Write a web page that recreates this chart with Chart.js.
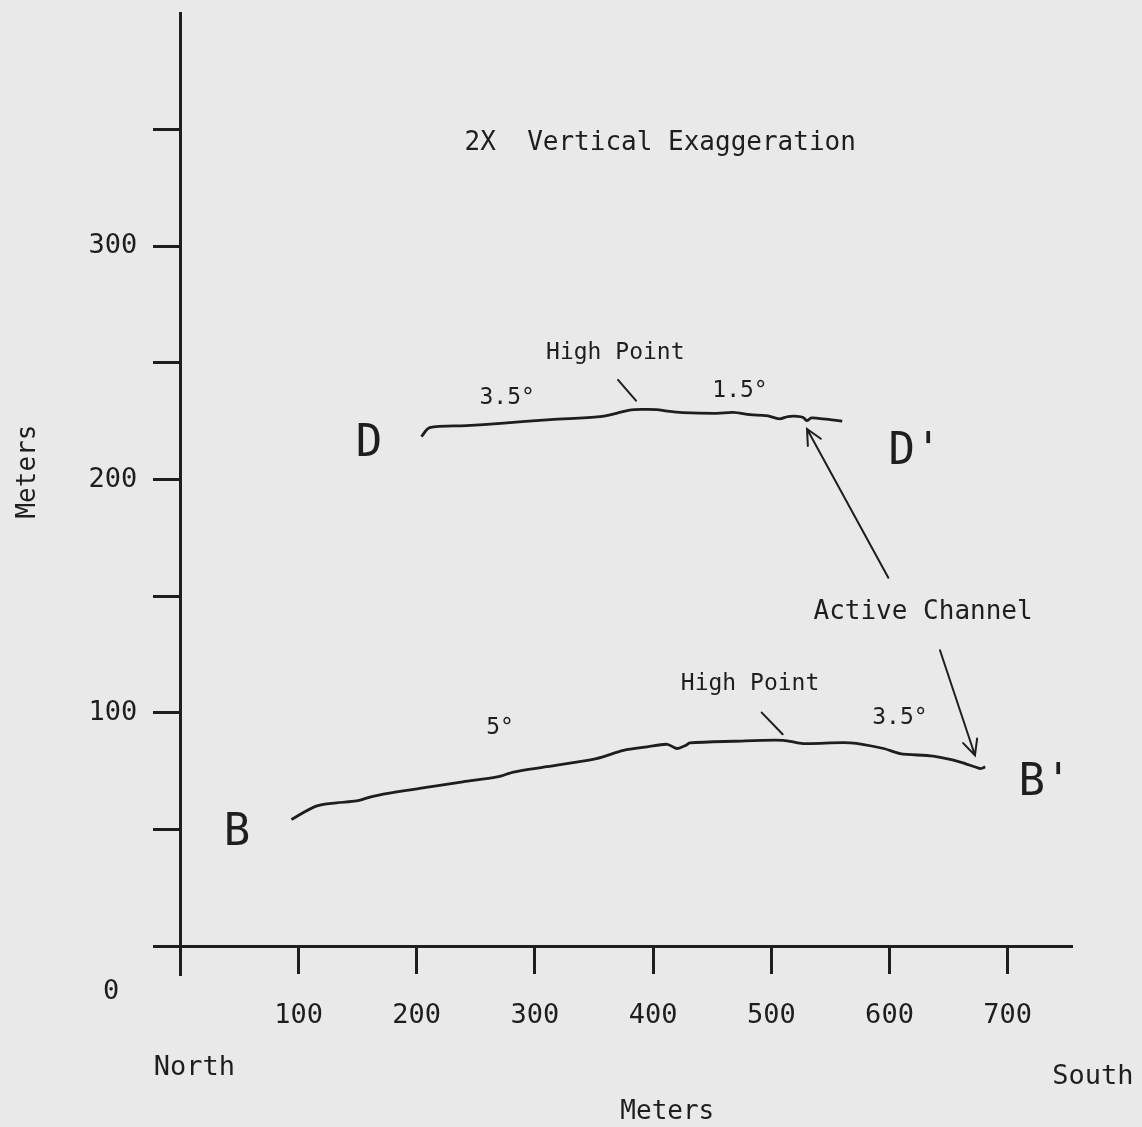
<!DOCTYPE html>
<html>
<head>
<meta charset="utf-8">
<title>Profiles B-B' and D-D'</title>
<script src="https://cdn.jsdelivr.net/npm/chart.js"></script>
<style>
  html, body { margin: 0; padding: 0; background: #e9e9e9; }
  #wrap { width: 1142px; height: 1127px; }
</style>
</head>
<body>
<div id="wrap"><canvas id="profileChart"></canvas></div>
<script>
// Profile D - D' (distance in meters, elevation in meters)
const dDistance = [204, 211, 242, 271, 313, 355, 369, 380, 391, 403, 412, 425, 454, 468, 482, 496, 507, 514, 522, 527, 530, 534, 544, 560];
const dElevation = [218.4, 222.3, 223.1, 224.1, 225.7, 227.0, 228.4, 229.8, 230.1, 230.0, 229.3, 228.7, 228.4, 228.8, 227.8, 227.4, 226.0, 227.0, 227.1, 226.6, 225.3, 226.4, 226.0, 225.0];

// Profile B - B'
const bDistance = [94, 115, 132, 149, 163, 183, 211, 239, 268, 282, 310, 352, 375, 395, 412, 420, 428, 431, 468, 510, 527, 567, 595, 609, 637, 660, 677, 681];
const bElevation = [54.3, 60.0, 61.4, 62.2, 64.2, 66.1, 68.2, 70.4, 72.5, 74.6, 76.9, 80.4, 83.9, 85.4, 86.5, 84.7, 86.1, 87.1, 87.8, 88.2, 86.8, 87.1, 84.7, 82.5, 81.4, 78.9, 76.1, 76.8];

// Axis ticks
const xTicks = [0, 100, 200, 300, 400, 500, 600, 700];
const xLabels = [100, 200, 300, 400, 500, 600, 700];
const yTicks = [0, 50, 100, 150, 200, 250, 300, 350];
const yLabels = [100, 200, 300];

const ink = '#1e1e1e';
const fontFamily = "'DejaVu Sans Mono', 'Liberation Mono', monospace";

// Notes placed in data units (meters)
const textNotes = [
    { text: '2X  Vertical Exaggeration', x: 406, y: 344, size: 26 },
    { text: 'High Point', x: 368, y: 254.4, size: 23 },
    { text: '3.5°', x: 276.5, y: 235.1, size: 23 },
    { text: '1.5°', x: 473.5, y: 238.1, size: 23 },
    { text: 'D', x: 159.7, y: 215, size: 44 },
    { text: "D'", x: 621.5, y: 211.6, size: 44 },
    { text: 'Active Channel', x: 628.4, y: 143, size: 26 },
    { text: 'High Point', x: 482, y: 112.2, size: 23 },
    { text: '5°', x: 270.5, y: 93.4, size: 23 },
    { text: '3.5°', x: 608.8, y: 97.6, size: 23 },
    { text: 'B', x: 48, y: 48.4, size: 44 },
    { text: "B'", x: 731.5, y: 69.8, size: 44 },
    { text: '0', x: -58.5, y: -19.7, size: 27 },
    { text: 'North', x: 11.8, y: -52.2, size: 27 },
    { text: 'South', x: 772, y: -56.1, size: 27 },
    { text: 'Meters', x: 412, y: -71.1, size: 26 }
];
const yTitle = { text: 'Meters', x: -128.9, y: 203.4, size: 26 };

// [x1, y1, x2, y2]
const leaderLines = [[370.3, 242.7, 385.5, 233.8], [491.9, 100.1, 509.6, 90.8]];
const arrows = [[599, 157.9, 530.2, 221.7], [642.7, 126.8, 672.3, 81.8]];

function toPoints(xs, ys) {
    return xs.map((x, i) => ({ x: x, y: ys[i] }));
}

// Draws the y tick labels, hand-lettered notes, leaders and arrows
const notesPlugin = {
    id: 'notes',
    afterDraw(chart) {
        const ctx = chart.ctx;
        const xs = chart.scales.x;
        const ys = chart.scales.y;
        ctx.save();
        ctx.fillStyle = ink;
        ctx.strokeStyle = ink;

        // y tick labels sit left of the tick marks
        ctx.font = '27px ' + fontFamily;
        ctx.textAlign = 'right';
        ctx.textBaseline = 'middle';
        const labelRight = xs.getPixelForValue(0) - 26 - 17;
        yLabels.forEach(v => {
            ctx.fillText(String(v), labelRight, ys.getPixelForValue(v));
        });

        ctx.textAlign = 'center';
        textNotes.forEach(n => {
            ctx.font = n.size + 'px ' + fontFamily;
            ctx.fillText(n.text, xs.getPixelForValue(n.x), ys.getPixelForValue(n.y));
        });

        ctx.save();
        ctx.translate(xs.getPixelForValue(yTitle.x), ys.getPixelForValue(yTitle.y));
        ctx.rotate(-Math.PI / 2);
        ctx.font = yTitle.size + 'px ' + fontFamily;
        ctx.fillText(yTitle.text, 0, 0);
        ctx.restore();

        ctx.lineWidth = 2;
        ctx.lineCap = 'round';
        leaderLines.forEach(l => {
            ctx.beginPath();
            ctx.moveTo(xs.getPixelForValue(l[0]), ys.getPixelForValue(l[1]));
            ctx.lineTo(xs.getPixelForValue(l[2]), ys.getPixelForValue(l[3]));
            ctx.stroke();
        });

        arrows.forEach(a => {
            const x1 = xs.getPixelForValue(a[0]), y1 = ys.getPixelForValue(a[1]);
            const x2 = xs.getPixelForValue(a[2]), y2 = ys.getPixelForValue(a[3]);
            const ang = Math.atan2(y2 - y1, x2 - x1);
            const head = 17;
            ctx.beginPath();
            ctx.moveTo(x1, y1);
            ctx.lineTo(x2, y2);
            ctx.moveTo(x2 - head * Math.cos(ang - 0.45), y2 - head * Math.sin(ang - 0.45));
            ctx.lineTo(x2, y2);
            ctx.lineTo(x2 - head * Math.cos(ang + 0.45), y2 - head * Math.sin(ang + 0.45));
            ctx.stroke();
        });
        ctx.restore();
    }
};

const ctx = document.getElementById('profileChart').getContext('2d');
const profileChart = new Chart(ctx, {
    type: 'line',
    data: {
        datasets: [
            {
                label: "D - D'",
                data: toPoints(dDistance, dElevation),
                borderColor: ink,
                borderWidth: 2.8,
                pointRadius: 0,
                tension: 0.3,
                fill: false
            },
            {
                label: "B - B'",
                data: toPoints(bDistance, bElevation),
                borderColor: ink,
                borderWidth: 2.8,
                pointRadius: 0,
                tension: 0.3,
                fill: false
            }
        ]
    },
    options: {
        responsive: true,
        maintainAspectRatio: false,
        animation: false,
        layout: {
            padding: { left: 160, right: 70, top: 13, bottom: 152 }
        },
        plugins: {
            legend: { display: false },
            tooltip: { enabled: false }
        },
        scales: {
            x: {
                type: 'linear',
                min: -17.2,
                max: 754.4,
                position: { y: 0 },
                afterBuildTicks: s => { s.ticks = xTicks.map(v => ({ value: v })); },
                border: { color: ink, width: 3 },
                grid: { drawOnChartArea: false, drawTicks: true, tickLength: 26, tickWidth: 3, tickColor: ink },
                ticks: {
                    color: ink,
                    font: { family: fontFamily, size: 27 },
                    padding: 28,
                    maxRotation: 0,
                    callback: v => xLabels.includes(v) ? String(v) : ''
                }
            },
            y: {
                type: 'linear',
                min: -12.4,
                max: 400,
                position: { x: 0 },
                afterBuildTicks: s => { s.ticks = yTicks.map(v => ({ value: v })); },
                border: { color: ink, width: 3 },
                grid: { drawOnChartArea: false, drawTicks: true, tickLength: 26, tickWidth: 3, tickColor: ink },
                ticks: { display: false }
            }
        }
    },
    plugins: [notesPlugin]
});
</script>
</body>
</html>
